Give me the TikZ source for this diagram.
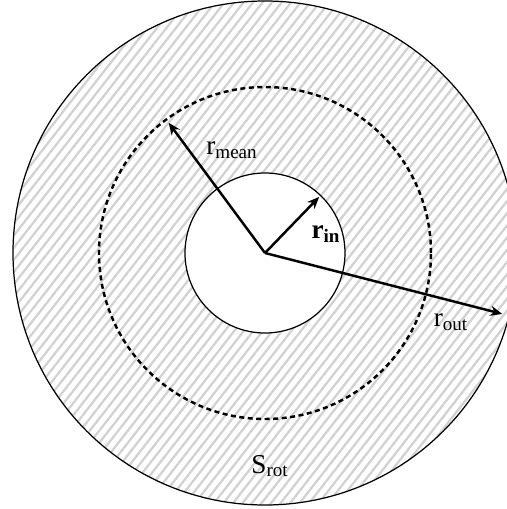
\documentclass[tikz,border=0pt]{standalone}
\usepackage{fontspec}
\setmainfont{Liberation Serif}
\usetikzlibrary{arrows.meta,patterns.meta}

\begin{document}
\begin{tikzpicture}[x=1cm,y=1cm]
\tikzset{
  ringfill/.style={pattern={Lines[angle=52,distance=0.15cm,line width=0.045cm]},pattern color=black!18},
  ring/.style={line width=0.7pt},
  meanring/.style={line width=1.4pt,dash pattern=on 0.1cm off 0.07cm},
  radius/.style={-{Stealth[length=0.24cm,width=0.2cm]},line width=1.4pt},
  radlabel/.style={inner sep=1pt,font=\fontsize{15.5}{18}\selectfont}
}
\useasboundingbox (-5.30,-5.12) rectangle (4.84,5.06);
\clip (-5.30,-5.12) rectangle (4.84,5.06);
% annulus
\fill[ringfill,even odd rule] (0,0) circle (5.04) (0,0) circle (1.60);
\draw[ring] (0,0) circle (5.04);
\draw[ring,fill=white] (0,0) circle (1.60);
\draw[meanring] (0,0) circle (3.32);
% radii
\coordinate (c_O) at (0,0);
\coordinate (c_in) at (46:1.56);
\coordinate (c_mean) at (126.5:3.24);
\coordinate (c_out) at (-14.4:4.90);
\draw[radius] (c_O) -- (c_mean);
\draw[radius] (c_O) -- (c_in);
\draw[radius] (c_O) -- (c_out);
\node[radlabel] (l_mean) at (-0.66,2.06) {r\textsubscript{mean}};
\node[radlabel] (l_in) at (1.22,0.38) {\textbf{r\textsubscript{in}}};
\node[radlabel] (l_out) at (3.72,-1.38) {r\textsubscript{out}};
\node[radlabel] (l_rot) at (0.10,-4.26) {S\textsubscript{rot}};
\end{tikzpicture}
\end{document}
